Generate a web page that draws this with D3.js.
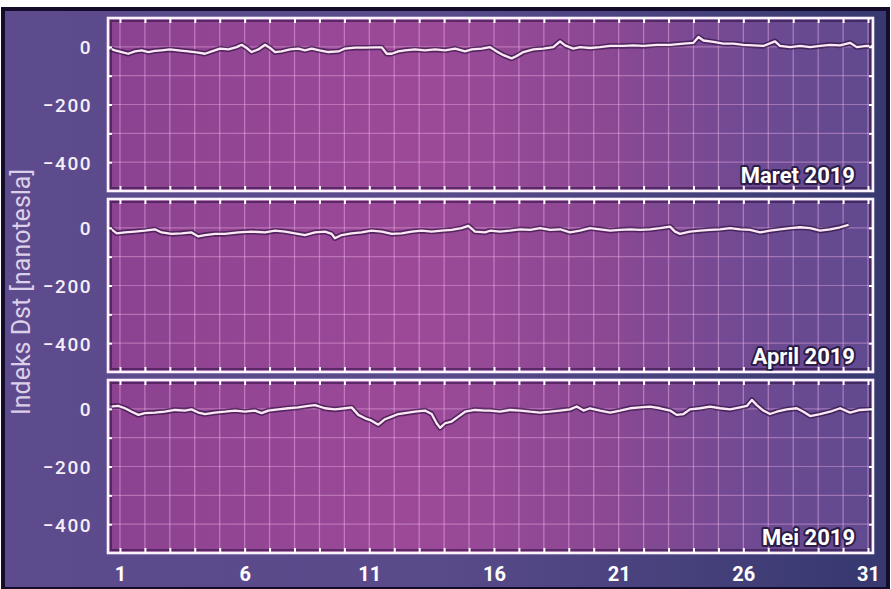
<!DOCTYPE html>
<html><head><meta charset="utf-8">
<script src="https://cdn.jsdelivr.net/npm/d3@7"></script>
<style>html,body{margin:0;padding:0;background:#fff;overflow:hidden}svg{display:block}</style>
</head><body>
<svg id="c" width="891" height="589"></svg>
<script>
// ---------- data ----------
const panelLabels = ["Maret 2019", "April 2019", "Mei 2019"];
const dayTicks = [1, 6, 11, 16, 21, 26, 31];
const allDays = d3.range(1, 32);
const yTickLabels = [0, -200, -400];
const yGrid = [100, 0, -100, -200, -300, -400, -500];
const yTitle = "Indeks Dst [nanotesla]";

const maretDays = [0.53,0.80,1.07,1.33,1.60,1.87,2.14,2.40,2.67,3.00,3.34,3.74,4.14,4.41,4.68,5.01,5.35,5.68,5.88,6.08,6.28,6.55,6.82,7.02,7.22,7.48,7.82,8.15,8.42,8.69,9.00,9.36,9.76,10.03,10.43,10.83,11.23,11.50,11.70,11.90,12.16,12.43,12.83,13.23,13.64,14.04,14.44,14.84,15.11,15.51,15.84,16.11,16.38,16.71,16.91,17.18,17.58,17.98,18.38,18.65,18.85,19.18,19.45,19.85,20.25,20.66,21.19,21.59,21.99,22.53,23.06,23.60,24.00,24.20,24.40,24.80,25.20,25.60,26.00,26.41,26.80,27.27,27.47,27.88,28.28,28.68,29.08,29.48,29.88,30.28,30.55,30.95,31.20];
const maretDst  = [-4,-12,-18,-24,-16,-12,-18,-14,-12,-9,-12,-16,-20,-24,-16,-6,-9,-1,7,-4,-18,-9,7,-4,-18,-16,-9,-6,-12,-6,-12,-18,-16,-6,-3,-3,-2,-2,-24,-24,-16,-12,-9,-12,-9,-12,-6,-16,-9,-6,-1,-16,-29,-40,-32,-18,-9,-6,-1,19,5,-6,-1,-4,-1,3,3,5,3,7,7,11,14,34,22,17,11,11,7,5,3,19,3,-1,3,-1,3,7,5,14,-1,3,2];

const aprilDays = [0.60,0.87,1.20,1.60,2.00,2.40,2.67,3.07,3.47,3.87,4.14,4.41,4.81,5.21,5.75,6.28,6.82,7.22,7.62,8.02,8.42,8.82,9.22,9.49,9.62,9.89,10.29,10.69,11.09,11.50,11.90,12.30,12.70,13.10,13.50,13.90,14.30,14.70,14.97,15.24,15.64,15.84,16.24,16.64,17.05,17.45,17.85,18.25,18.65,19.05,19.45,19.85,20.25,20.66,21.06,21.46,21.86,22.26,22.66,23.06,23.26,23.46,23.86,24.27,24.67,25.07,25.47,25.87,26.27,26.67,27.07,27.47,27.88,28.28,28.68,29.08,29.48,29.88,30.22];
const aprilDst  = [-1,-19,-16,-13,-10,-5,-16,-21,-19,-16,-30,-25,-21,-21,-16,-13,-16,-10,-13,-19,-25,-16,-13,-21,-36,-25,-19,-16,-10,-13,-21,-19,-13,-10,-13,-10,-7,-1,7,-13,-16,-10,-13,-10,-5,-7,-1,-7,-5,-16,-10,-1,-5,-10,-7,-5,-7,-5,-1,4,-13,-21,-13,-10,-7,-5,-1,-5,-7,-16,-10,-5,-1,2,-1,-10,-5,2,10];

const meiDays = [0.60,0.93,1.20,1.47,1.74,2.00,2.40,2.80,3.21,3.61,3.87,4.14,4.41,4.81,5.21,5.61,6.01,6.41,6.68,6.95,7.35,7.75,8.15,8.55,8.82,9.22,9.62,10.03,10.29,10.56,10.83,11.09,11.36,11.63,11.90,12.16,12.43,12.83,13.23,13.50,13.70,13.84,14.04,14.30,14.57,14.84,15.24,15.64,15.84,16.24,16.64,17.05,17.45,17.85,18.25,18.65,19.05,19.32,19.59,19.85,20.25,20.66,21.06,21.46,21.86,22.26,22.66,23.06,23.33,23.60,23.86,24.27,24.67,25.07,25.47,25.87,26.14,26.34,26.54,26.80,27.07,27.34,27.74,28.14,28.41,28.68,29.08,29.48,29.88,30.28,30.68,31.08,31.20];
const meiDst  = [8,10,2,-10,-21,-15,-13,-10,-4,-6,-2,-13,-18,-13,-10,-6,-10,-6,-15,-6,-2,2,5,10,13,2,-2,2,5,-21,-33,-41,-55,-36,-27,-18,-15,-10,-6,-18,-50,-66,-50,-44,-27,-10,-4,-6,-6,-10,-4,-6,-10,-13,-10,-6,-2,8,-6,2,-6,-13,-6,2,5,8,2,-6,-21,-18,-2,2,8,2,-2,5,10,31,13,-6,-18,-10,-2,2,-10,-25,-18,-10,2,-13,-4,-2,-2];

const series = [
  {label: panelLabels[0], days: maretDays, values: maretDst},
  {label: panelLabels[1], days: aprilDays, values: aprilDst},
  {label: panelLabels[2], days: meiDays, values: meiDst}
];

// ---------- layout ----------
const W = 891, H = 589;
const left = 108, right = 873;
const panelH = 173;
const tops = [18, 199, 380];

const svg = d3.select("#c");
const defs = svg.append("defs");

const bgGrad = defs.append("linearGradient").attr("id","bg").attr("x1","0").attr("x2","1").attr("y1","0").attr("y2","0");
bgGrad.append("stop").attr("offset","0").attr("stop-color","#5d4b8d");
bgGrad.append("stop").attr("offset","0.5").attr("stop-color","#594a8a");
bgGrad.append("stop").attr("offset","1").attr("stop-color","#36386f");

const pGrad = defs.append("linearGradient").attr("id","pg").attr("x1","0").attr("x2","1").attr("y1","0").attr("y2","0");
pGrad.append("stop").attr("offset","0").attr("stop-color","#8b4290");
pGrad.append("stop").attr("offset","0.4").attr("stop-color","#9c4a98");
pGrad.append("stop").attr("offset","0.65").attr("stop-color","#8c4893");
pGrad.append("stop").attr("offset","0.85").attr("stop-color","#6e4a93");
pGrad.append("stop").attr("offset","1").attr("stop-color","#604a8f");

// background
svg.append("rect").attr("width",W).attr("height",H).attr("fill","#ffffff");
svg.append("rect").attr("x",3).attr("y",9).attr("width",W-6).attr("height",H-9)
  .attr("fill","url(#bg)").attr("stroke","#140c2a").attr("stroke-width",4);

const x = d3.scaleLinear().domain([0.52, 31.2]).range([left, right]);

series.forEach((s, i) => {
  const top = tops[i];
  const y = d3.scaleLinear().domain([-500, 100]).range([top + panelH, top]);
  const g = svg.append("g");
  const clipId = "clip" + i;
  defs.append("clipPath").attr("id", clipId).append("rect")
    .attr("x", left).attr("y", top).attr("width", right - left).attr("height", panelH);

  g.append("rect").attr("x", left).attr("y", top).attr("width", right - left).attr("height", panelH)
    .attr("fill", "url(#pg)");

  // grid
  const grid = g.append("g").attr("clip-path", `url(#${clipId})`);
  grid.selectAll("line.v").data(allDays).join("line")
    .attr("x1", d => x(d)).attr("x2", d => x(d)).attr("y1", top).attr("y2", top + panelH)
    .attr("stroke", "#f4b4ea").attr("stroke-opacity", 0.45).attr("stroke-width", 1.3);
  grid.selectAll("line.h").data(yGrid).join("line")
    .attr("x1", left).attr("x2", right).attr("y1", d => y(d)).attr("y2", d => y(d))
    .attr("stroke", "#f4b4ea").attr("stroke-opacity", 0.4).attr("stroke-width", 1.2);

  // data line
  const pts = s.days.map((d, k) => [d, s.values[k]]);
  const line = d3.line().x(d => x(d[0])).y(d => y(d[1]));
  const dl = g.append("g").attr("clip-path", `url(#${clipId})`);
  dl.append("path").datum(pts).attr("d", line).attr("fill","none")
    .attr("stroke","#260c38").attr("stroke-opacity",0.6).attr("stroke-width",5.5).attr("stroke-linejoin","round");
  dl.append("path").datum(pts).attr("d", line).attr("fill","none")
    .attr("stroke","#fde9f6").attr("stroke-width",2.3).attr("stroke-linejoin","round");

  // inner dark halo + white frame
  g.append("rect").attr("x", left + 3).attr("y", top + 3).attr("width", right - left - 6).attr("height", panelH - 6)
    .attr("fill","none").attr("stroke","#2a1040").attr("stroke-opacity",0.55).attr("stroke-width",2);
  g.append("rect").attr("x", left).attr("y", top).attr("width", right - left).attr("height", panelH)
    .attr("fill","none").attr("stroke","#fbf2fb").attr("stroke-width",2.6);

  // inward ticks
  const tickStyle = sel => { sel.select(".domain").remove(); sel.selectAll(".tick line").attr("stroke","#ffffff").attr("stroke-width",2); sel.selectAll("text").remove(); };
  g.append("g").attr("transform", `translate(0,${top})`).call(d3.axisTop(x).tickValues(allDays).tickSize(-5).tickFormat("")).call(tickStyle);
  g.append("g").attr("transform", `translate(0,${top + panelH})`).call(d3.axisBottom(x).tickValues(allDays).tickSize(-5).tickFormat("")).call(tickStyle);
  g.append("g").attr("transform", `translate(${left},0)`).call(d3.axisLeft(y).tickValues(yGrid.slice(1,-1)).tickSize(-4).tickFormat("")).call(tickStyle);
  g.append("g").attr("transform", `translate(${right},0)`).call(d3.axisRight(y).tickValues(yGrid.slice(1,-1)).tickSize(-4).tickFormat("")).call(tickStyle);

  // y tick labels
  const ya = g.append("g").attr("transform", `translate(${left - 16},0)`)
    .call(d3.axisLeft(y).tickValues(yTickLabels).tickSize(0).tickPadding(0));
  ya.select(".domain").remove();
  ya.selectAll("text").attr("fill","#f6eef8").attr("font-family","Roboto, sans-serif")
    .attr("font-size",19).attr("font-weight",500).attr("letter-spacing","1.5px").attr("dy","0.36em");

  // panel label
  g.append("text").attr("x", right - 18).attr("y", top + panelH - 8)
    .attr("text-anchor","end").attr("font-family","Roboto, sans-serif").attr("font-weight",700)
    .attr("font-size",22).attr("fill","#ffffff")
    .attr("stroke","#1b1033").attr("stroke-width",4).attr("stroke-opacity",0.8).attr("paint-order","stroke")
    .attr("stroke-linejoin","round")
    .text(s.label);

  if (i === 2) {
    const xa = g.append("g").attr("transform", `translate(0,${top + panelH})`)
      .call(d3.axisBottom(x).tickValues(dayTicks).tickSize(0).tickPadding(14));
    xa.select(".domain").remove();
    xa.selectAll("text").attr("fill","#ffffff").attr("font-family","Roboto, sans-serif")
      .attr("font-size",20).attr("font-weight",700);
  }
});

// y-axis title
svg.append("text").attr("transform", "translate(30,292) rotate(-90)")
  .attr("text-anchor","middle").attr("font-family","Roboto, sans-serif").attr("font-weight",400)
  .attr("font-size",25).attr("fill","#dccfea").text(yTitle);
</script>
</body></html>
